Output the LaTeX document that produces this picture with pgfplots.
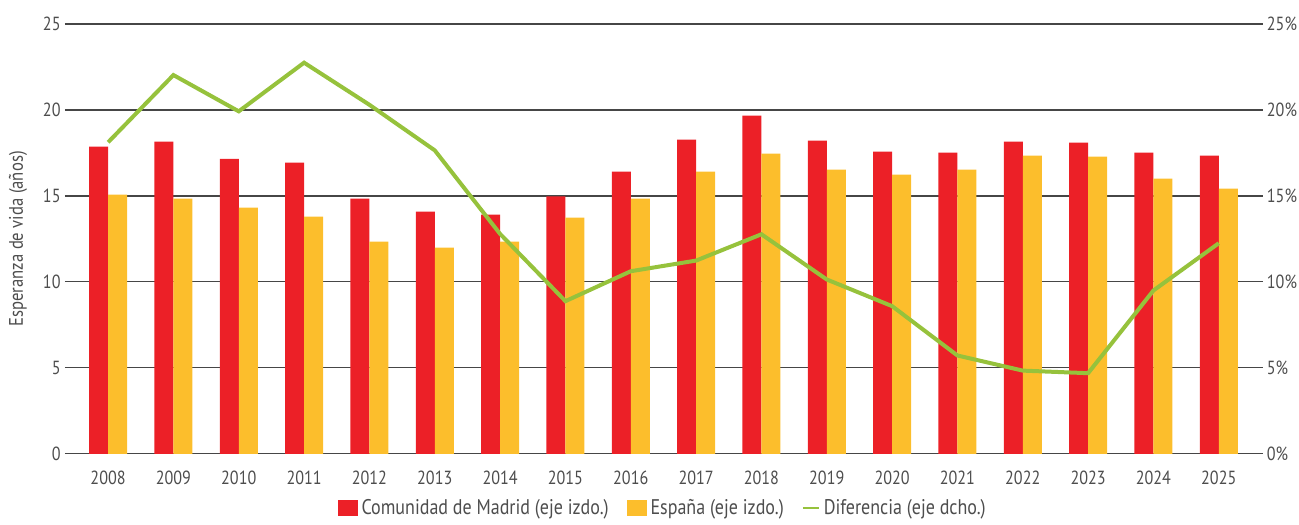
\documentclass[border=0pt]{standalone}
\usepackage{fontspec}
\setmainfont[FakeStretch=0.85]{PT Sans}
\usepackage{pgfplots}
\pgfplotsset{compat=1.18}
\definecolor{cmred}{RGB}{236,32,39}
\definecolor{cmyel}{RGB}{252,190,44}
\definecolor{cmgreen}{RGB}{150,194,60}
\definecolor{txt}{RGB}{77,77,77}
\definecolor{gridc}{RGB}{70,70,70}
\begin{document}
\fontsize{9pt}{11pt}\selectfont
\begin{tikzpicture}
\pgfplotsset{
  common/.style={
    scale only axis, width=599pt, height=215pt,
    xmin=-0.66, xmax=17.67, ymin=0, ymax=25,
    /pgf/number format/assume math mode=true,
    tick label style={font=\fontsize{9.5pt}{11pt}\selectfont, text=txt},
    tick style={draw=none},
  }
}
\begin{axis}[common, name=ax,
  axis line style={draw=none},
  ybar=0pt, bar width=9.5pt,
  xtick=data,
  xticklabels={2008,2009,2010,2011,2012,2013,2014,2015,2016,2017,2018,2019,2020,2021,2022,2023,2024,2025},
  ytick={0,5,10,15,20,25},
  ymajorgrids, grid style={draw=gridc, line width=0.6pt},
  yticklabel style={inner sep=1pt, xshift=-1pt},
  xticklabel style={yshift=-1pt},
  ylabel={Esperanza de vida (años)},
  ylabel style={at={(axis description cs:-0.0392,0.5)}, anchor=center, font=\fontsize{9.8pt}{11pt}\selectfont, text=txt},
]
\addplot[fill=cmred, draw=none] coordinates {
(0,17.87) (1,18.16) (2,17.15) (3,16.94) (4,14.84) (5,14.09) (6,13.91) (7,14.98) (8,16.41)
(9,18.27) (10,19.67) (11,18.22) (12,17.58) (13,17.52) (14,18.16) (15,18.10) (16,17.52) (17,17.34)};
\addplot[fill=cmyel, draw=none] coordinates {
(0,15.08) (1,14.84) (2,14.32) (3,13.80) (4,12.34) (5,12.00) (6,12.34) (7,13.74) (8,14.84)
(9,16.41) (10,17.46) (11,16.53) (12,16.24) (13,16.53) (14,17.34) (15,17.29) (16,16.01) (17,15.43)};
\end{axis}
\begin{axis}[common,
  axis x line=none, axis y line*=right,
  axis line style={draw=none},
  xtick=\empty,
  ytick={0,5,10,15,20,25},
  yticklabel={\pgfmathprintnumber{\tick}\%},
  yticklabel style={inner sep=1pt, xshift=1pt},
  legend columns=3,
  legend style={draw=none, fill=none, at={(0.5,-0.1256)}, anchor=center,
    font=\fontsize{10.6pt}{12pt}\selectfont, text=txt,
    /tikz/every even column/.append style={column sep=7pt}},
  legend cell align=left,
]
\addlegendimage{legend image code/.code={\fill[cmred] (0pt,-3.75pt) rectangle (9.5pt,3.75pt);}}
\addlegendentry{Comunidad de Madrid (eje izdo.)}
\addlegendimage{legend image code/.code={\fill[cmyel] (0pt,-3.75pt) rectangle (9.5pt,3.75pt);}}
\addlegendentry{España (eje izdo.)}
\addlegendimage{legend image code/.code={\draw[cmgreen, line width=1pt] (0pt,0pt) -- (8pt,0pt);}}
\addlegendentry{Diferencia (eje dcho.)}
\addplot[cmgreen, line width=2pt, mark=none, forget plot] coordinates {
(0,18.12) (1,22.03) (2,19.92) (3,22.75) (4,20.3) (5,17.65) (6,12.79) (7,8.88) (8,10.62)
(9,11.24) (10,12.77) (11,10.14) (12,8.59) (13,5.72) (14,4.84) (15,4.69) (16,9.50) (17,12.25)};
\end{axis}
\path ([shift={(-32.5pt,-32pt)}]ax.south west) rectangle ([shift={(18pt,12pt)}]ax.north east);
\end{tikzpicture}
\end{document}
